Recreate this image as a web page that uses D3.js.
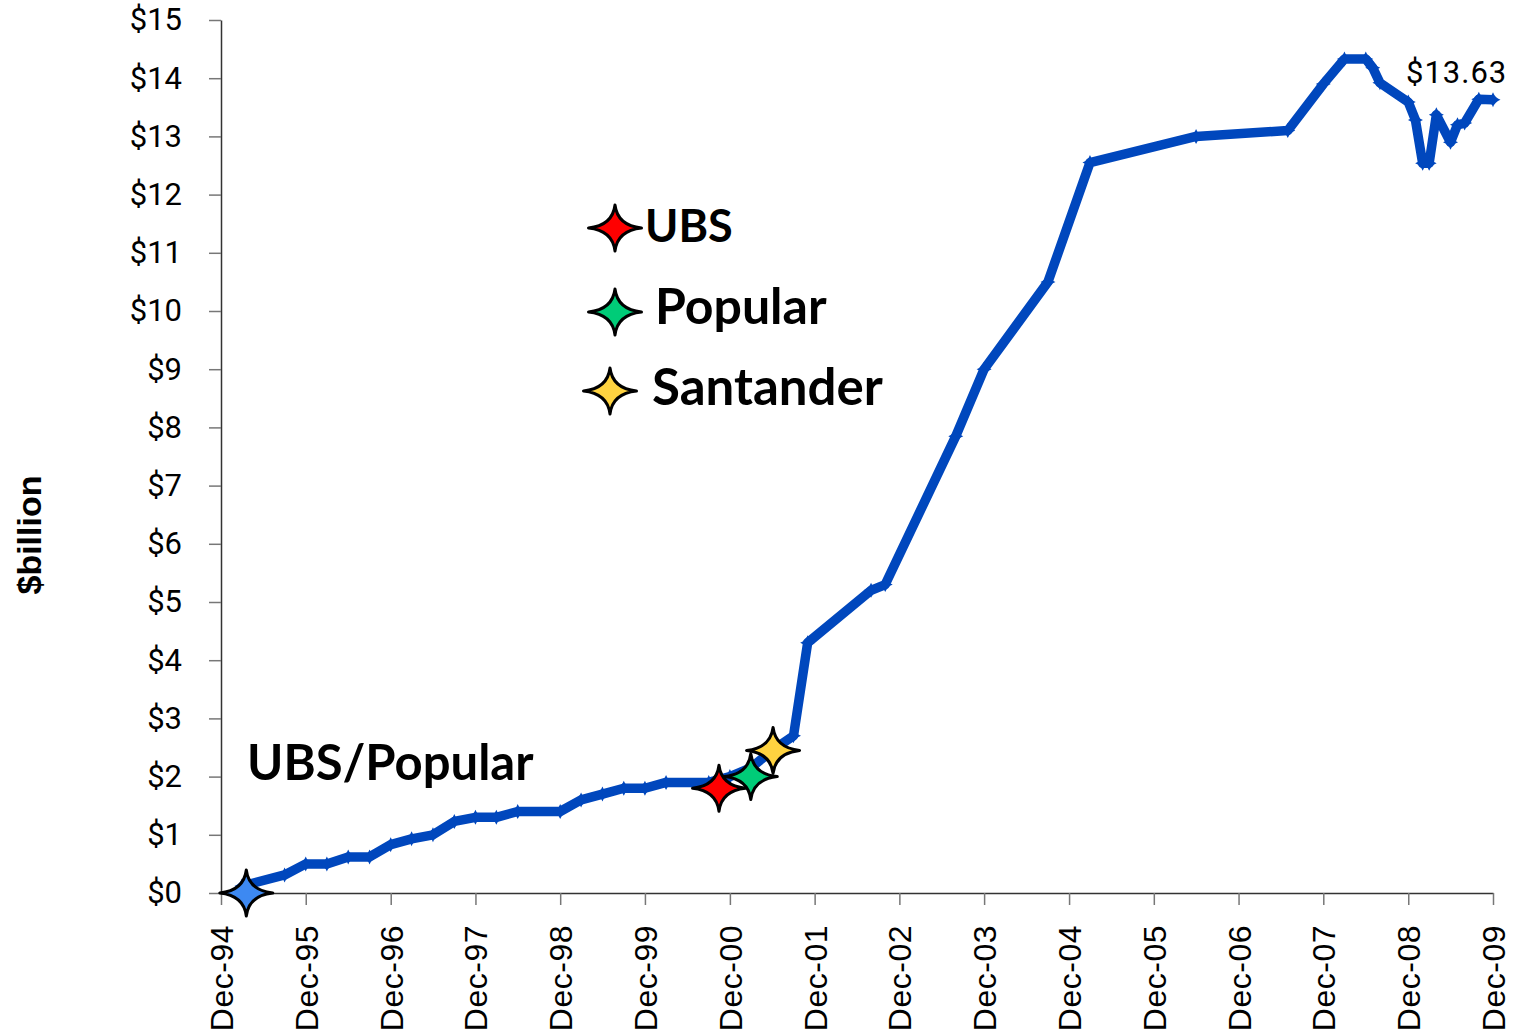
<!DOCTYPE html>
<html>
<head>
<meta charset="utf-8">
<script src="https://cdn.jsdelivr.net/npm/d3@7"></script>
<style>
  body { margin: 0; background: #fff; }
  svg { display: block; }
</style>
</head>
<body>
<svg width="1517" height="1030"></svg>
<script>
// The data ($ billion)
var dates = ["1995-03","1995-09","1995-12","1996-03","1996-06","1996-09","1996-12","1997-03","1997-06","1997-09",
  "1997-12","1998-03","1998-06","1998-12","1999-03","1999-06","1999-09","1999-12","2000-03","2000-09",
  "2000-12","2001-03","2001-06","2001-09","2001-11","2002-08","2002-10","2003-08","2003-12","2004-09",
  "2005-03","2006-06","2007-07","2007-12","2008-03","2008-06","2008-07","2008-08","2008-12","2009-01",
  "2009-02","2009-03","2009-04","2009-06","2009-07","2009-08","2009-10","2009-12"];
var values = [0.12,0.31,0.5,0.5,0.62,0.62,0.83,0.93,1.0,1.23,
  1.3,1.3,1.4,1.4,1.6,1.7,1.8,1.8,1.9,1.9,
  2.0,2.15,2.45,2.7,4.3,5.2,5.3,7.85,9.0,10.5,
  12.55,13.0,13.1,13.9,14.33,14.33,14.18,13.92,13.59,13.28,
  12.54,12.54,13.37,12.9,13.2,13.23,13.64,13.63];

// Events marked with stars
var eventNames = ["UBS/Popular","UBS","Popular","Santander"];
var eventDates = ["1995-03-20","2000-10-15","2001-03-01","2001-06-05"];
var eventValues = [0, 1.8, 2.0, 2.45];
var eventColors = ["#3d89f2","#ff0000","#00cc78","#ffd340"];

var yTicks = [0,1,2,3,4,5,6,7,8,9,10,11,12,13,14,15];
var lastLabel = "$13.63";

var svg = d3.select("svg"),
  width = +svg.attr("width"),
  height = +svg.attr("height");

var parseMonth = d3.timeParse("%Y-%m"),
  parseDay = d3.timeParse("%Y-%m-%d");

var data = dates.map(function(d, i) { return { date: parseMonth(d), value: values[i] }; });

var x = d3.scaleTime()
  .domain([new Date(1994, 11, 1), new Date(2009, 11, 1)])
  .range([221, 1493]);
var y = d3.scaleLinear()
  .domain([0, 15])
  .range([893, 20]);

// 4-point star
function star(w, h, c) {
  return "M0," + (-h / 2) +
    "Q" + c + "," + (-c) + " " + (w / 2) + ",0" +
    "Q" + c + "," + c + " 0," + (h / 2) +
    "Q" + (-c) + "," + c + " " + (-w / 2) + ",0" +
    "Q" + (-c) + "," + (-c) + " 0," + (-h / 2) + "Z";
}

// Axes
var yAxis = svg.append("g")
  .attr("transform", "translate(221,0)")
  .call(d3.axisLeft(y).tickValues(yTicks).tickSize(12).tickSizeOuter(0).tickPadding(27)
    .tickFormat(function(d) { return "$" + d; }));
yAxis.selectAll("text")
  .style("font-family", "Roboto, 'Liberation Sans', sans-serif")
  .style("font-size", "31px")
  .attr("fill", "#000");

var xAxis = svg.append("g")
  .attr("transform", "translate(0,893)")
  .call(d3.axisBottom(x).tickSize(12).tickSizeOuter(0).tickPadding(0)
    .tickValues(d3.range(1994, 2010).map(function(yr) { return new Date(yr, 11, 1); }))
    .tickFormat(d3.timeFormat("%b-%y")));
xAxis.selectAll("text")
  .attr("transform", "rotate(-90)")
  .attr("text-anchor", "end")
  .attr("x", -32)
  .attr("y", 0)
  .attr("dy", "0.36em")
  .style("font-family", "'Liberation Sans', Arial, sans-serif")
  .style("font-size", "32px")
  .style("letter-spacing", "0.5px")
  .attr("fill", "#000");

svg.selectAll(".domain").attr("stroke", "#333").attr("stroke-width", 1.5);
svg.selectAll(".tick line").attr("stroke", "#777").attr("stroke-width", 1.5);

// Y title
svg.append("text")
  .attr("transform", "translate(41,535) rotate(-90)")
  .attr("text-anchor", "middle")
  .style("font-family", "'Liberation Sans', Arial, sans-serif")
  .style("font-weight", "bold")
  .style("font-size", "34px")
  .text("$billion");

// The line
var line = d3.line()
  .x(function(d) { return x(d.date); })
  .y(function(d) { return y(d.value); });

svg.append("path")
  .datum(data)
  .attr("d", line)
  .attr("fill", "none")
  .attr("stroke", "#0047bd")
  .attr("stroke-width", 9.5)
  .attr("stroke-linejoin", "round");

// small point markers
svg.append("g")
  .selectAll("path")
  .data(data)
  .enter()
  .append("path")
    .attr("transform", function(d) { return "translate(" + x(d.date) + "," + y(d.value) + ")"; })
    .attr("d", star(15, 15, 2))
    .attr("fill", "#0047bd");

// Last value label
svg.append("text")
  .attr("x", 1406)
  .attr("y", 83)
  .style("font-family", "Roboto, 'Liberation Sans', sans-serif")
  .style("font-size", "31px")
  .style("letter-spacing", "1px")
  .attr("fill", "#000")
  .text(lastLabel);

// Event stars on the line
svg.append("g")
  .selectAll("path")
  .data(eventNames)
  .enter()
  .append("path")
    .attr("transform", function(d, i) {
      return "translate(" + x(parseDay(eventDates[i])) + "," + y(eventValues[i]) + ")";
    })
    .attr("d", star(53, 46, 2.5))
    .attr("fill", function(d, i) { return eventColors[i]; })
    .attr("stroke", "#000")
    .attr("stroke-width", 3)
    .attr("stroke-linejoin", "round");

// Legend
var legendPos = [
  { sx: 615, sy: 228, tx: 645, ty: 242, size: 45 },
  { sx: 615, sy: 312, tx: 655, ty: 324, size: 50 },
  { sx: 610, sy: 391, tx: 652, ty: 405, size: 51 }
];
var legend = svg.append("g");
legend.selectAll("path")
  .data(legendPos)
  .enter()
  .append("path")
    .attr("transform", function(d) { return "translate(" + d.sx + "," + d.sy + ")"; })
    .attr("d", star(53, 46, 2.5))
    .attr("fill", function(d, i) { return eventColors[i + 1]; })
    .attr("stroke", "#000")
    .attr("stroke-width", 3)
    .attr("stroke-linejoin", "round");
legend.selectAll("text")
  .data(legendPos)
  .enter()
  .append("text")
    .attr("x", function(d) { return d.tx; })
    .attr("y", function(d) { return d.ty; })
    .style("font-family", "Lato, 'Open Sans', sans-serif")
    .style("font-weight", "bold")
    .style("font-size", function(d) { return d.size + "px"; })
    .text(function(d, i) { return eventNames[i + 1]; });

svg.append("text")
  .attr("x", 247)
  .attr("y", 780)
  .style("font-family", "Lato, 'Open Sans', sans-serif")
  .style("font-weight", "bold")
  .style("font-size", "49px")
  .text(eventNames[0]);
</script>
</body>
</html>
